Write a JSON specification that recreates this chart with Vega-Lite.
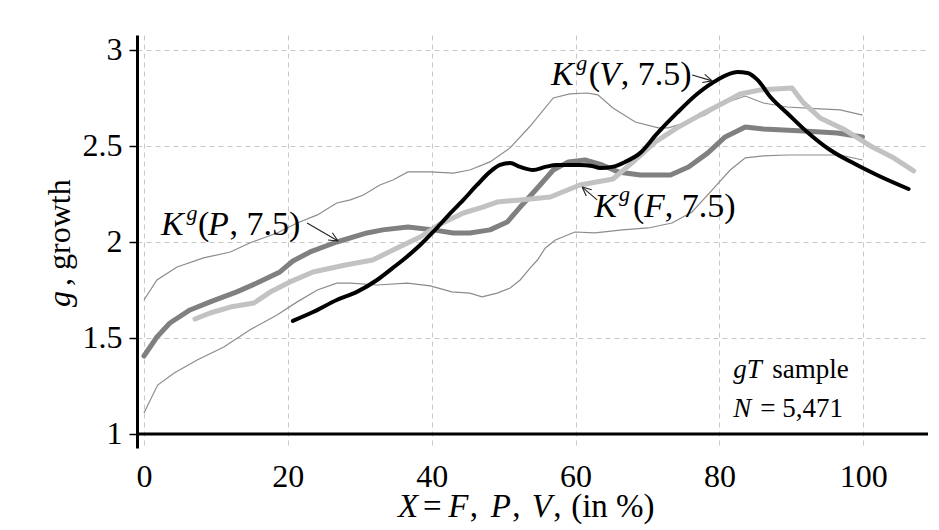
{
  "$schema": "https://vega.github.io/schema/vega-lite/v6.json",
  "width": 791,
  "height": 413,
  "autosize": {"type": "none"},
  "padding": {"left": 137, "top": 35, "right": 11, "bottom": 82},
  "background": "white",
  "config": {"view": {"stroke": null}, "font": "Liberation Serif"},
  "datasets": {
    "upper": [
      {"x":0,"y":1.698},{"x":1.8,"y":1.802},{"x":4.6,"y":1.870},{"x":8.3,"y":1.917},{"x":12.0,"y":1.948},{"x":14.7,"y":1.995},{"x":18.5,"y":2.047},{"x":21.3,"y":2.099},{"x":24.1,"y":2.141},{"x":26.8,"y":2.203},{"x":28.7,"y":2.219},{"x":30.5,"y":2.245},{"x":32.8,"y":2.297},{"x":34.6,"y":2.323},{"x":36.7,"y":2.365},{"x":39.8,"y":2.365},{"x":43.0,"y":2.359},{"x":45.3,"y":2.375},{"x":48.1,"y":2.417},{"x":50.9,"y":2.490},{"x":53.7,"y":2.604},{"x":56.9,"y":2.750},{"x":59.2,"y":2.771},{"x":61.6,"y":2.776},{"x":63.1,"y":2.766},{"x":65.2,"y":2.698},{"x":68.3,"y":2.625},{"x":71.5,"y":2.594},{"x":72.9,"y":2.594},{"x":75.2,"y":2.620},{"x":78.0,"y":2.661},{"x":80.8,"y":2.724},{"x":83.6,"y":2.760},{"x":86.1,"y":2.724},{"x":89.4,"y":2.703},{"x":94.0,"y":2.693},{"x":96.8,"y":2.688},{"x":99.9,"y":2.661}
    ],
    "lower": [
      {"x":0,"y":1.109},{"x":1.9,"y":1.255},{"x":4.2,"y":1.318},{"x":7.4,"y":1.385},{"x":11.1,"y":1.453},{"x":14.7,"y":1.542},{"x":18.5,"y":1.620},{"x":21.3,"y":1.688},{"x":24.1,"y":1.750},{"x":26.8,"y":1.786},{"x":28.7,"y":1.786},{"x":32.4,"y":1.776},{"x":36.6,"y":1.786},{"x":39.8,"y":1.771},{"x":42.8,"y":1.740},{"x":45.3,"y":1.734},{"x":47.0,"y":1.714},{"x":49.1,"y":1.734},{"x":50.9,"y":1.760},{"x":52.3,"y":1.802},{"x":53.7,"y":1.865},{"x":54.7,"y":1.906},{"x":55.8,"y":1.969},{"x":57.2,"y":2.010},{"x":59.9,"y":2.052},{"x":62.7,"y":2.047},{"x":66.5,"y":2.063},{"x":70.1,"y":2.073},{"x":73.4,"y":2.099},{"x":76.2,"y":2.156},{"x":79.0,"y":2.271},{"x":81.5,"y":2.375},{"x":83.6,"y":2.438},{"x":86.1,"y":2.448},{"x":89.4,"y":2.453},{"x":94.0,"y":2.453},{"x":96.8,"y":2.453},{"x":99.9,"y":2.427}
    ],
    "kp": [
      {"x":0,"y":1.406},{"x":1.8,"y":1.505},{"x":3.6,"y":1.578},{"x":6.4,"y":1.646},{"x":9.2,"y":1.688},{"x":12.9,"y":1.740},{"x":15.7,"y":1.786},{"x":18.9,"y":1.844},{"x":20.7,"y":1.901},{"x":23.1,"y":1.948},{"x":26.8,"y":2.000},{"x":31.0,"y":2.047},{"x":33.2,"y":2.063},{"x":36.7,"y":2.078},{"x":40.2,"y":2.063},{"x":43.0,"y":2.047},{"x":45.3,"y":2.047},{"x":48.1,"y":2.063},{"x":50.5,"y":2.104},{"x":52.3,"y":2.182},{"x":54.7,"y":2.281},{"x":56.9,"y":2.375},{"x":59.0,"y":2.417},{"x":61.3,"y":2.427},{"x":63.7,"y":2.401},{"x":65.9,"y":2.365},{"x":69.0,"y":2.349},{"x":73.2,"y":2.349},{"x":75.7,"y":2.391},{"x":78.4,"y":2.464},{"x":80.8,"y":2.547},{"x":83.6,"y":2.599},{"x":86.1,"y":2.589},{"x":91.7,"y":2.578},{"x":96.4,"y":2.568},{"x":99.9,"y":2.547}
    ],
    "kf": [
      {"x":7.1,"y":1.599},{"x":9.2,"y":1.630},{"x":12.0,"y":1.661},{"x":15.3,"y":1.682},{"x":17.8,"y":1.745},{"x":20.3,"y":1.792},{"x":23.5,"y":1.844},{"x":28.0,"y":1.880},{"x":31.8,"y":1.906},{"x":35.2,"y":1.969},{"x":38.4,"y":2.026},{"x":41.2,"y":2.094},{"x":44.4,"y":2.151},{"x":47.1,"y":2.182},{"x":49.1,"y":2.208},{"x":52.3,"y":2.219},{"x":56.5,"y":2.234},{"x":60.6,"y":2.297},{"x":65.2,"y":2.328},{"x":68.0,"y":2.417},{"x":71.1,"y":2.521},{"x":74.1,"y":2.594},{"x":77.3,"y":2.661},{"x":80.8,"y":2.729},{"x":82.9,"y":2.771},{"x":85.7,"y":2.792},{"x":90.1,"y":2.802},{"x":91.7,"y":2.724},{"x":94.0,"y":2.646},{"x":97.5,"y":2.583},{"x":101.0,"y":2.500},{"x":104.0,"y":2.443},{"x":107.0,"y":2.370}
    ],
    "kv": [
      {"x":20.7,"y":1.589},{"x":23.5,"y":1.635},{"x":26.8,"y":1.698},{"x":29.6,"y":1.740},{"x":32.4,"y":1.802},{"x":34.6,"y":1.865},{"x":36.0,"y":1.906},{"x":38.4,"y":1.984},{"x":40.2,"y":2.052},{"x":42.1,"y":2.130},{"x":44.4,"y":2.219},{"x":46.3,"y":2.297},{"x":48.1,"y":2.365},{"x":49.5,"y":2.401},{"x":50.9,"y":2.411},{"x":52.3,"y":2.391},{"x":54.1,"y":2.375},{"x":55.8,"y":2.391},{"x":57.4,"y":2.401},{"x":59.0,"y":2.401},{"x":60.6,"y":2.401},{"x":62.3,"y":2.396},{"x":63.4,"y":2.385},{"x":65.1,"y":2.391},{"x":66.9,"y":2.417},{"x":69.0,"y":2.464},{"x":71.3,"y":2.563},{"x":74.1,"y":2.672},{"x":76.9,"y":2.771},{"x":79.7,"y":2.844},{"x":82.5,"y":2.885},{"x":83.9,"y":2.880},{"x":85.3,"y":2.844},{"x":87.1,"y":2.755},{"x":89.4,"y":2.672},{"x":92.2,"y":2.573},{"x":95.4,"y":2.479},{"x":98.6,"y":2.411},{"x":101.9,"y":2.349},{"x":106.3,"y":2.276}
    ],
    "arrows": [
      {"x1":22.67,"y1":2.099,"x2":26.98,"y2":2.005},
      {"x1":26.19,"y1":2.048,"x2":26.98,"y2":2.005},
      {"x1":25.59,"y1":2.010,"x2":26.98,"y2":2.005},
      {"x1":76.22,"y1":2.870,"x2":78.99,"y2":2.839},
      {"x1":77.96,"y1":2.873,"x2":78.99,"y2":2.839},
      {"x1":77.62,"y1":2.831,"x2":78.99,"y2":2.839},
      {"x1":63.0,"y1":2.219,"x2":60.92,"y2":2.286},
      {"x1":61.49,"y1":2.239,"x2":60.92,"y2":2.286},
      {"x1":62.25,"y1":2.272,"x2":60.92,"y2":2.286}
    ],
    "labelItalic": [
      {"x":2.36,"y":2.036,"text":"K"},{"x":8.9,"y":2.036,"text":"P"},
      {"x":56.6,"y":2.818,"text":"K"},{"x":63.3,"y":2.818,"text":"V"},
      {"x":62.6,"y":2.130,"text":"K"},{"x":69.5,"y":2.130,"text":"F"}
    ],
    "labelRoman": [
      {"x":7.5,"y":2.036,"text":"("},{"x":11.9,"y":2.036,"text":", 7.5)"},
      {"x":61.85,"y":2.818,"text":"("},{"x":66.3,"y":2.818,"text":", 7.5)"},
      {"x":68.0,"y":2.130,"text":"("},{"x":72.4,"y":2.130,"text":", 7.5)"}
    ],
    "labelSup": [
      {"x":5.9,"y":2.115,"text":"g"},
      {"x":60.1,"y":2.896,"text":"g"},
      {"x":66.05,"y":2.214,"text":"g"}
    ],
    "noteItalic": [
      {"x":81.92,"y":1.292,"text":"gT"},
      {"x":81.92,"y":1.089,"text":"N"}
    ],
    "noteRoman": [
      {"x":87.34,"y":1.292,"text":"sample"},
      {"x":85.68,"y":1.089,"text":"= 5,471"}
    ],
    "xTitleItalic": [
      {"x":35.33,"y":0.5677,"text":"X"},
      {"x":42.3,"y":0.5677,"text":"F"},
      {"x":48.2,"y":0.5677,"text":"P"},
      {"x":53.9,"y":0.5677,"text":"V"}
    ],
    "xTitleRoman": [
      {"x":38.80,"y":0.5677,"text":"="},
      {"x":45.3,"y":0.5677,"text":","},
      {"x":51.2,"y":0.5677,"text":","},
      {"x":56.9,"y":0.5677,"text":","},
      {"x":59.39,"y":0.5677,"text":"(in %)"}
    ],
    "yTitleItalic": [
      {"x":-10.29,"y":1.6615,"text":"g"}
    ],
    "yTitleRoman": [
      {"x":-10.29,"y":1.771,"text":", growth"}
    ]
  },
  "layer": [
    {
      "data": {"name": "upper"},
      "mark": {"type": "line", "color": "#8c8c8c", "strokeWidth": 1.2},
      "encoding": {
        "x": {"field": "x", "type": "quantitative",
          "scale": {"domain": [-0.97, 109], "nice": false, "zero": false},
          "axis": {"values": [0, 20, 40, 60, 80, 100], "domain": false, "ticks": false,
            "grid": true, "gridDash": [5, 4], "gridColor": "#c8c8c8", "gridWidth": 1,
            "labelFont": "Liberation Serif", "labelFontSize": 32, "labelColor": "#000", "labelPadding": 13,
            "title": null}},
        "y": {"field": "y", "type": "quantitative",
          "scale": {"domain": [0.927, 3.078], "nice": false, "zero": false},
          "axis": {"values": [1, 1.5, 2, 2.5, 3], "format": ".2~f", "domain": true, "domainColor": "#000", "domainWidth": 3,
            "ticks": true, "tickColor": "#000", "tickSize": 8, "tickWidth": 1.5,
            "grid": true, "gridDash": [5, 4], "gridColor": "#c8c8c8", "gridWidth": 1,
            "labelFont": "Liberation Serif", "labelFontSize": 32, "labelColor": "#000", "labelPadding": 7,
            "title": null}}
      }
    },
    {
      "data": {"name": "lower"},
      "mark": {"type": "line", "color": "#8c8c8c", "strokeWidth": 1.2},
      "encoding": {"x": {"field": "x", "type": "quantitative"}, "y": {"field": "y", "type": "quantitative"}}
    },
    {
      "data": {"values": [{}]},
      "mark": {"type": "rule", "color": "#000", "strokeWidth": 3},
      "encoding": {"y": {"datum": 1, "type": "quantitative"}}
    },
    {
      "data": {"name": "kp"},
      "mark": {"type": "line", "color": "#808080", "strokeWidth": 5, "strokeCap": "round", "strokeJoin": "round"},
      "encoding": {"x": {"field": "x", "type": "quantitative"}, "y": {"field": "y", "type": "quantitative"}}
    },
    {
      "data": {"name": "kf"},
      "mark": {"type": "line", "color": "#c2c2c2", "strokeWidth": 5, "strokeCap": "round", "strokeJoin": "round"},
      "encoding": {"x": {"field": "x", "type": "quantitative"}, "y": {"field": "y", "type": "quantitative"}}
    },
    {
      "data": {"name": "kv"},
      "mark": {"type": "line", "color": "#000", "strokeWidth": 4, "strokeCap": "round", "strokeJoin": "round", "interpolate": "monotone"},
      "encoding": {"x": {"field": "x", "type": "quantitative"}, "y": {"field": "y", "type": "quantitative"}}
    },
    {
      "data": {"name": "arrows"},
      "mark": {"type": "rule", "color": "#222", "strokeWidth": 1.1},
      "encoding": {
        "x": {"field": "x1", "type": "quantitative"}, "y": {"field": "y1", "type": "quantitative"},
        "x2": {"field": "x2"}, "y2": {"field": "y2"}
      }
    },
    {
      "data": {"name": "labelItalic"},
      "mark": {"type": "text", "font": "Liberation Serif", "fontSize": 34, "fontStyle": "italic", "align": "left", "baseline": "alphabetic", "color": "#000"},
      "encoding": {"x": {"field": "x", "type": "quantitative"}, "y": {"field": "y", "type": "quantitative"}, "text": {"field": "text"}}
    },
    {
      "data": {"name": "labelRoman"},
      "mark": {"type": "text", "font": "Liberation Serif", "fontSize": 34, "align": "left", "baseline": "alphabetic", "color": "#000"},
      "encoding": {"x": {"field": "x", "type": "quantitative"}, "y": {"field": "y", "type": "quantitative"}, "text": {"field": "text"}}
    },
    {
      "data": {"name": "labelSup"},
      "mark": {"type": "text", "font": "Liberation Serif", "fontSize": 22, "fontStyle": "italic", "align": "left", "baseline": "alphabetic", "color": "#000"},
      "encoding": {"x": {"field": "x", "type": "quantitative"}, "y": {"field": "y", "type": "quantitative"}, "text": {"field": "text"}}
    },
    {
      "data": {"name": "noteItalic"},
      "mark": {"type": "text", "font": "Liberation Serif", "fontSize": 27, "fontStyle": "italic", "align": "left", "baseline": "alphabetic", "color": "#000"},
      "encoding": {"x": {"field": "x", "type": "quantitative"}, "y": {"field": "y", "type": "quantitative"}, "text": {"field": "text"}}
    },
    {
      "data": {"name": "noteRoman"},
      "mark": {"type": "text", "font": "Liberation Serif", "fontSize": 27, "align": "left", "baseline": "alphabetic", "color": "#000"},
      "encoding": {"x": {"field": "x", "type": "quantitative"}, "y": {"field": "y", "type": "quantitative"}, "text": {"field": "text"}}
    },
    {
      "data": {"name": "xTitleItalic"},
      "mark": {"type": "text", "font": "Liberation Serif", "fontSize": 33, "fontStyle": "italic", "align": "left", "baseline": "alphabetic", "color": "#000"},
      "encoding": {"x": {"field": "x", "type": "quantitative"}, "y": {"field": "y", "type": "quantitative"}, "text": {"field": "text"}}
    },
    {
      "data": {"name": "xTitleRoman"},
      "mark": {"type": "text", "font": "Liberation Serif", "fontSize": 33, "align": "left", "baseline": "alphabetic", "color": "#000"},
      "encoding": {"x": {"field": "x", "type": "quantitative"}, "y": {"field": "y", "type": "quantitative"}, "text": {"field": "text"}}
    },
    {
      "data": {"name": "yTitleItalic"},
      "mark": {"type": "text", "font": "Liberation Serif", "fontSize": 32, "fontStyle": "italic", "align": "left", "baseline": "alphabetic", "angle": 270, "color": "#000"},
      "encoding": {"x": {"field": "x", "type": "quantitative"}, "y": {"field": "y", "type": "quantitative"}, "text": {"field": "text"}}
    },
    {
      "data": {"name": "yTitleRoman"},
      "mark": {"type": "text", "font": "Liberation Serif", "fontSize": 32, "align": "left", "baseline": "alphabetic", "angle": 270, "color": "#000"},
      "encoding": {"x": {"field": "x", "type": "quantitative"}, "y": {"field": "y", "type": "quantitative"}, "text": {"field": "text"}}
    }
  ]
}
